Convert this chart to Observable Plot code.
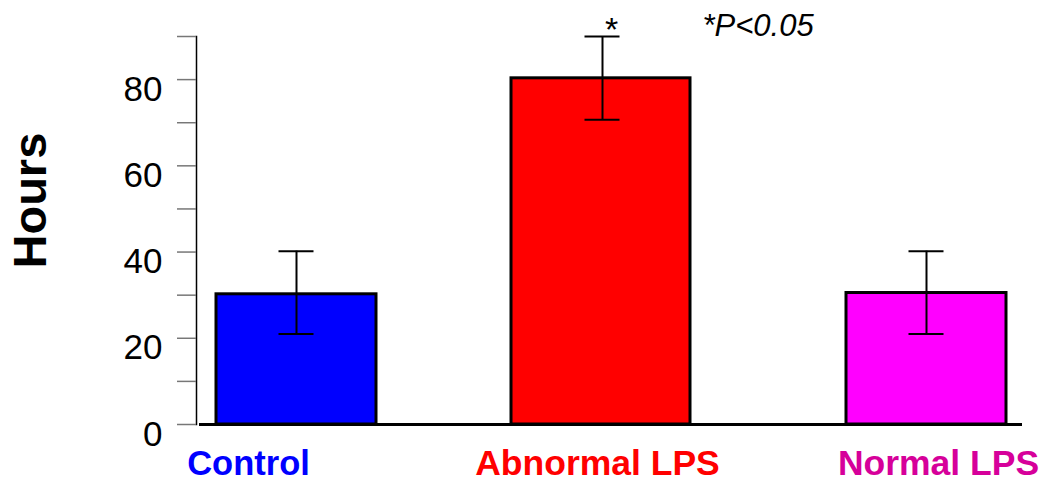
<!DOCTYPE html>
<html>
<head>
<meta charset="utf-8">
<script src="https://cdn.jsdelivr.net/npm/d3@7"></script>
<script src="https://cdn.jsdelivr.net/npm/@observablehq/plot@0.6"></script>
<style>
  html, body { margin: 0; padding: 0; background: #fff; }
  #chart svg { display: block; }
</style>
</head>
<body>
<div id="chart"></div>
<script>
const categories = ["Control", "Abnormal LPS", "Normal LPS"];
const means = [30.2, 80.3, 30.5];
const errLow = [21.0, 70.7, 21.0];
const errHigh = [40.2, 90.0, 40.2];
const barColors = ["#0000ff", "#ff0000", "#ff00ff"];
const labelColors = ["#0000ff", "#ff0000", "#d6009a"];
const yTicks = [0, 10, 20, 30, 40, 50, 60, 70, 80, 90];
const yLabels = [0, 20, 40, 60, 80];
const sigMark = "*";
const sigNote = "*P<0.05";
const sigCategory = "Abnormal LPS";

const data = categories.map((c, i) => ({
  cat: c, mean: means[i], lo: errLow[i], hi: errHigh[i],
  fill: barColors[i], label: labelColors[i]
}));

// per-category styling offsets (layout only)
const style = {
  "Control":      {labelDx: -48, labelSize: 34.5, insetL: 0,   insetR: 0, errDx: 0},
  "Abnormal LPS": {labelDx: -14, labelSize: 35.5, insetL: -20, insetR: 1, errDx: -9},
  "Normal LPS":   {labelDx: 12,  labelSize: 35.5, insetL: 0,   insetR: 0, errDx: 0}
};

const perCat = (fn) => categories.map(c => fn(data.filter(d => d.cat === c), style[c]));

const plot = Plot.plot({
  width: 1043,
  height: 482,
  marginLeft: 196,
  marginRight: 18,
  marginTop: 36,
  marginBottom: 58,
  style: {background: "#fff", fontFamily: "Liberation Sans, Arial, sans-serif"},
  x: {domain: categories, paddingInner: 0.4925, paddingOuter: 0.0603, axis: null},
  y: {domain: [0, 90], axis: null},
  marks: [
    ...perCat((d, s) => Plot.barY(d, {x: "cat", y: "mean", fill: "fill", stroke: "#000", strokeWidth: 3, insetLeft: s.insetL, insetRight: s.insetR})),
    Plot.ruleY([0], {stroke: "#000", strokeWidth: 3, insetLeft: 3, insetRight: 3}),
    ...perCat((d, s) => Plot.ruleX(d, {x: "cat", y1: "lo", y2: "hi", stroke: "#000", strokeWidth: 2, dx: s.errDx})),
    ...perCat((d, s) => Plot.tickY(d, {x: "cat", y: "lo", stroke: "#000", strokeWidth: 2, insetLeft: 62.5, insetRight: 62.5, dx: s.errDx})),
    ...perCat((d, s) => Plot.tickY(d, {x: "cat", y: "hi", stroke: "#000", strokeWidth: 2, insetLeft: 62.5, insetRight: 62.5, dx: s.errDx})),
    // y axis
    Plot.frame({anchor: "left", stroke: "#000", strokeWidth: 1.5}),
    Plot.axisY({ticks: yTicks, tickSize: 19, stroke: "#777", strokeWidth: 1.5, tickFormat: () => ""}),
    Plot.axisY({ticks: yLabels, tickSize: 0, tickPadding: 34, dy: 10, fontSize: 35, fill: "#000", tickFormat: d => d}),
    // category labels
    ...perCat((d, s) => Plot.text(d, {
      x: "cat", text: "cat", fill: "label", frameAnchor: "bottom", dy: 39, dx: s.labelDx,
      fontSize: s.labelSize, fontWeight: "bold", lineAnchor: "middle"
    })),
    // significance
    Plot.text([sigMark], {x: [sigCategory], y: [90], dx: 0, dy: 4, fontSize: 34, fill: "#000", lineAnchor: "bottom"}),
    Plot.text([sigNote], {x: [sigCategory], y: [90], dx: 91, dy: -1, fontSize: 31, fontStyle: "italic", fill: "#000", textAnchor: "start", lineAnchor: "bottom"}),
    // y label
    Plot.text(["Hours"], {frameAnchor: "left", dx: -166, rotate: -90, fontSize: 47, fontWeight: "bold", fill: "#000", dy: 38})
  ]
});
document.getElementById("chart").appendChild(plot);
</script>
</body>
</html>
